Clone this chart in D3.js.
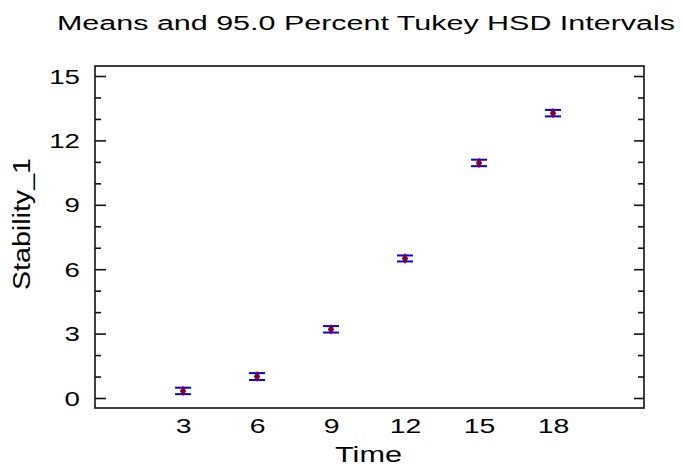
<!DOCTYPE html>
<html>
<head>
<meta charset="utf-8">
<script src="https://cdn.jsdelivr.net/npm/d3@7"></script>
<style>
  html, body { margin: 0; padding: 0; background: #fff; }
  svg { display: block; font-family: "Liberation Sans", Arial, sans-serif; }
</style>
</head>
<body>
<svg id="chart" width="683" height="468"></svg>
<script>
// Group means of Stability_1 by Time with 95% Tukey HSD intervals
const times = ["3", "6", "9", "12", "15", "18"];
const means = [0.33, 1.0, 3.2, 6.5, 10.95, 13.27];
const lower = [0.18, 0.84, 3.05, 6.36, 10.80, 13.12];
const upper = [0.48, 1.16, 3.35, 6.64, 11.10, 13.42];
const majorTicks = [0, 3, 6, 9, 12, 15];
const minorTicks = [1, 2, 4, 5, 7, 8, 10, 11, 13, 14];

const titleText = "Means and 95.0 Percent Tukey HSD Intervals";
const xTitle = "Time";
const yTitle = "Stability_1";

const svg = d3.select("#chart");
const plot = { left: 95, right: 644, top: 66, bottom: 408 };

// x: categories placed on an index scale with wide outer padding
const x = d3.scaleLinear()
  .domain([-1.19, times.length - 1 + 1.23])
  .range([plot.left, plot.right]);
const y = d3.scaleLinear()
  .domain([-0.466, 15.466])
  .range([plot.bottom, plot.top]);

const sx = 1.42;   // horizontal stretch of the axis lettering

// frame
svg.append("rect")
  .attr("x", plot.left).attr("y", plot.top)
  .attr("width", plot.right - plot.left).attr("height", plot.bottom - plot.top)
  .attr("fill", "none").attr("stroke", "#111").attr("stroke-width", 1.6);

// left axis: major ticks with labels, pointing into the plot
const yAxisL = svg.append("g")
  .attr("transform", `translate(${plot.left},0)`)
  .call(d3.axisLeft(y).tickValues(majorTicks).tickSize(-11).tickFormat(d3.format("d")));
yAxisL.select(".domain").remove();
yAxisL.selectAll(".tick line").attr("stroke", "#111").attr("stroke-width", 1.6);
yAxisL.selectAll(".tick text")
  .attr("font-size", 19.5).attr("fill", "#000")
  .attr("x", -15 / sx).attr("dy", "0.36em")
  .attr("transform", `scale(${sx},1)`);

// left minor ticks
svg.append("g")
  .attr("transform", `translate(${plot.left},0)`)
  .call(d3.axisLeft(y).tickValues(minorTicks).tickSize(-6).tickFormat(""))
  .call(g => g.select(".domain").remove())
  .selectAll(".tick line").attr("stroke", "#111").attr("stroke-width", 1.6);

// right axis ticks, pointing into the plot
svg.append("g")
  .attr("transform", `translate(${plot.right},0)`)
  .call(d3.axisRight(y).tickValues(majorTicks).tickSize(-10).tickFormat(""))
  .call(g => g.select(".domain").remove())
  .selectAll(".tick line").attr("stroke", "#111").attr("stroke-width", 1.6);
svg.append("g")
  .attr("transform", `translate(${plot.right},0)`)
  .call(d3.axisRight(y).tickValues(minorTicks).tickSize(-6).tickFormat(""))
  .call(g => g.select(".domain").remove())
  .selectAll(".tick line").attr("stroke", "#111").attr("stroke-width", 1.6);

// bottom axis: labels only
const xAxis = svg.append("g")
  .attr("transform", `translate(0,${plot.bottom})`)
  .call(d3.axisBottom(x).tickValues(d3.range(times.length)).tickSize(0)
    .tickFormat(i => times[i]));
xAxis.select(".domain").remove();
xAxis.selectAll(".tick text")
  .attr("font-size", 20).attr("fill", "#000")
  .attr("y", 25).attr("dy", 0)
  .attr("transform", `scale(${sx},1)`);

// interval marks
const g = svg.append("g");
const cap = 8;
times.forEach((t, i) => {
  const cx = x(i);
  g.append("line")
    .attr("x1", cx).attr("x2", cx)
    .attr("y1", y(lower[i])).attr("y2", y(upper[i]))
    .attr("stroke", "#0000ff").attr("stroke-width", 2);
  [lower[i], upper[i]].forEach(v => {
    g.append("line")
      .attr("x1", cx - cap).attr("x2", cx + cap)
      .attr("y1", y(v)).attr("y2", y(v))
      .attr("stroke", "#0000ff").attr("stroke-width", 2);
  });
  g.append("path")
    .attr("d", d3.symbol(d3.symbolDiamond, 34)())
    .attr("transform", `translate(${cx},${y(means[i])})`)
    .attr("fill", "#800030");
});

// titles
svg.append("text")
  .attr("x", 57).attr("y", 30)
  .attr("font-size", 20).attr("fill", "#000")
  .attr("textLength", 618).attr("lengthAdjust", "spacingAndGlyphs")
  .text(titleText);

svg.append("text")
  .attr("x", 335).attr("y", 462)
  .attr("font-size", 22).attr("fill", "#000")
  .attr("textLength", 67).attr("lengthAdjust", "spacingAndGlyphs")
  .text(xTitle);

svg.append("text")
  .attr("transform", "translate(30,290) rotate(-90)")
  .attr("x", 0).attr("y", 0)
  .attr("font-size", 23).attr("fill", "#000")
  .attr("textLength", 132).attr("lengthAdjust", "spacingAndGlyphs")
  .text(yTitle);
</script>
</body>
</html>
